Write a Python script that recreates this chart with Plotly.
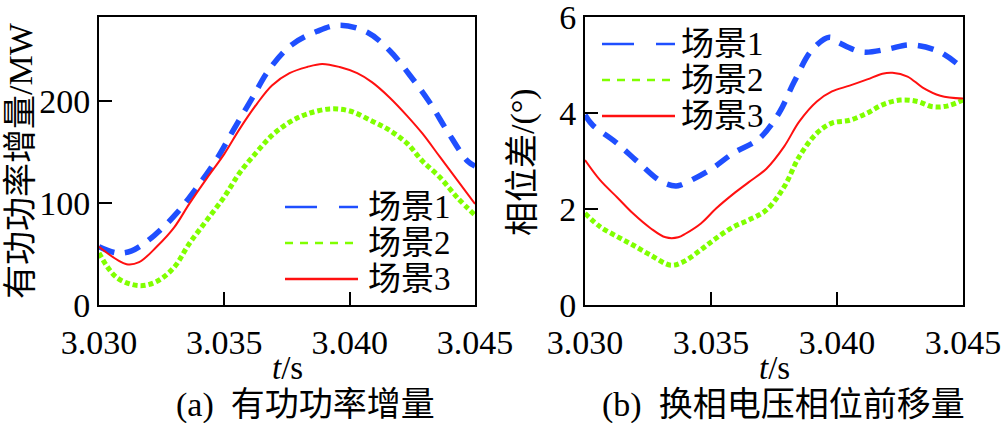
import plotly.graph_objects as go

# ---------------- data ----------------
series_names = ["场景1", "场景2", "场景3"]

# (a) active power increment, MW
t_a1 = [3.0300, 3.0307, 3.0313, 3.0322, 3.0331, 3.0339, 3.0347, 3.0354, 3.0361, 3.0368,
        3.0377, 3.0387, 3.0396, 3.0407, 3.0416, 3.0424, 3.0432, 3.0439, 3.0447, 3.0450]
p_a1 = [57, 51, 53, 68, 90, 115, 143, 173, 202, 231, 255, 268, 274, 267, 249, 225, 198, 170, 141, 136]

t_a2 = [3.0300, 3.0307, 3.0316, 3.0323, 3.0330, 3.0336, 3.0343, 3.0350, 3.0356, 3.0363, 3.0369,
        3.0376, 3.0383, 3.0392, 3.0400, 3.0409, 3.0416, 3.0423, 3.0429, 3.0436, 3.0443, 3.0450]
p_a2 = [51, 27, 19, 23, 37, 60, 83, 106, 129, 150, 166, 179, 187, 192, 190, 180, 171, 158, 141, 125, 105, 88]

t_a3 = [3.0300, 3.0311, 3.0316, 3.0323, 3.0330, 3.0336, 3.0343, 3.0350, 3.0356, 3.0363, 3.0369,
        3.0376, 3.0383, 3.0389, 3.0396, 3.0403, 3.0409, 3.0416, 3.0423, 3.0429, 3.0436, 3.0443, 3.0450]
p_a3 = [57, 40, 42, 57, 76, 99, 124, 148, 172, 197, 215, 227, 233, 236, 233, 227, 218, 203, 185, 168, 145, 122, 99]

# (b) commutation voltage phase advance, degrees
t_b1 = [3.0300, 3.0303, 3.0312, 3.0321, 3.0330, 3.0336, 3.0338, 3.0350, 3.0359, 3.0369, 3.0377,
        3.0383, 3.0390, 3.0397, 3.0401, 3.0410, 3.0420, 3.0429, 3.0440, 3.0450]
d_b1 = [3.96, 3.75, 3.40, 2.98, 2.58, 2.48, 2.50, 2.83, 3.17, 3.46, 4.00,
        4.65, 5.31, 5.58, 5.46, 5.27, 5.33, 5.42, 5.29, 4.93]

t_b2 = [3.0300, 3.0306, 3.0313, 3.0319, 3.0326, 3.0334, 3.0339, 3.0346, 3.0352, 3.0359, 3.0365,
        3.0372, 3.0379, 3.0385, 3.0392, 3.0398, 3.0405, 3.0412, 3.0418, 3.0425, 3.0432, 3.0438,
        3.0444, 3.0450]
d_b2 = [1.91, 1.63, 1.42, 1.25, 1.04, 0.83, 0.90, 1.15, 1.39, 1.63, 1.77,
        1.98, 2.46, 3.09, 3.58, 3.79, 3.85, 4.00, 4.17, 4.27, 4.24, 4.13, 4.15, 4.27]

t_b3 = [3.0300, 3.0306, 3.0313, 3.0319, 3.0326, 3.0332, 3.0337, 3.0340, 3.0346, 3.0352, 3.0359,
        3.0365, 3.0372, 3.0379, 3.0385, 3.0392, 3.0398, 3.0405, 3.0412, 3.0418, 3.0422, 3.0428,
        3.0434, 3.0441, 3.0450]
d_b3 = [3.02, 2.60, 2.23, 1.91, 1.60, 1.41, 1.41, 1.49, 1.70, 2.01, 2.32,
        2.56, 2.84, 3.30, 3.82, 4.24, 4.45, 4.57, 4.70, 4.82, 4.84, 4.76, 4.53, 4.36, 4.30]

x_ticks = [3.030, 3.035, 3.040, 3.045]
x_ticktext = ["3.030", "3.035", "3.040", "3.045"]
ya_ticks = [0, 100, 200]
yb_ticks = [0, 2, 4, 6]

# ---------------- style ----------------
W, H = 1003, 423
LAT = "Liberation Serif, Times New Roman, Noto Sans CJK SC, serif"
BLUE, GREEN, RED = "#1f4fff", "#80ff00", "#ff1010"
plot_styles = [dict(color=BLUE, width=5.5, dash="16px,11px"),
               dict(color=GREEN, width=5, dash="5px,3px"),
               dict(color=RED, width=2)]
legend_styles = [dict(color=BLUE, width=2.5, dash="32px,22px"),
                 dict(color=GREEN, width=2.5, dash="8px,7px"),
                 dict(color=RED, width=2.5)]

def px_x(p):
    return p / W

def px_y(p):
    return 1 - p / H

fig = go.Figure()
data_a = [(t_a1, p_a1), (t_a2, p_a2), (t_a3, p_a3)]
data_b = [(t_b1, d_b1), (t_b2, d_b2), (t_b3, d_b3)]
for i, (tx, ty) in enumerate(data_a):
    fig.add_trace(go.Scatter(x=tx, y=ty, mode="lines", line=dict(shape="spline", **plot_styles[i]),
                             name=series_names[i], showlegend=False, xaxis="x", yaxis="y"))
for i, (tx, ty) in enumerate(data_b):
    fig.add_trace(go.Scatter(x=tx, y=ty, mode="lines", line=dict(shape="spline", **plot_styles[i]),
                             name=series_names[i], showlegend=False, xaxis="x2", yaxis="y2"))

ydom = [px_y(305), px_y(17)]
axis_common = dict(showline=True, linecolor="black", linewidth=2, mirror=True, ticks="inside",
                   ticklen=13, tickwidth=1.5, tickcolor="black", showgrid=False, zeroline=False,
                   automargin=False,
                   tickfont=dict(family=LAT, size=34, color="black"))
fig.update_layout(
    template="none",
    width=W, height=H, autosize=False,
    margin=dict(l=0, r=0, t=0, b=0, pad=0, autoexpand=False),
    paper_bgcolor="white", plot_bgcolor="white",
    xaxis=dict(domain=[px_x(99), px_x(475)], range=[3.030, 3.045], tickvals=x_ticks,
               ticktext=x_ticktext, anchor="y", ticklabelstandoff=6, **axis_common),
    yaxis=dict(domain=ydom, range=[0, 282], tickvals=ya_ticks, anchor="x", **axis_common),
    xaxis2=dict(domain=[px_x(585), px_x(963)], range=[3.030, 3.045], tickvals=x_ticks,
                ticktext=x_ticktext, anchor="y2", ticklabelstandoff=6, **axis_common),
    yaxis2=dict(domain=ydom, range=[0, 6.0005], tickvals=yb_ticks, anchor="x2",
                ticklabeloverflow="allow", **axis_common),
    showlegend=False,
)

annotations = []
shapes = []
# legends drawn as line samples + labels
legend_a = dict(x0=285, x1=358, tx=366, rows=[207, 243, 279])
legend_b = dict(x0=602, x1=675, tx=679, rows=[44, 80, 116])
for lg in (legend_a, legend_b):
    for i, yy in enumerate(lg["rows"]):
        shapes.append(dict(type="line", xref="paper", yref="paper",
                           x0=px_x(lg["x0"]), x1=px_x(lg["x1"]), y0=px_y(yy), y1=px_y(yy),
                           line=legend_styles[i]))
        annotations.append(dict(text=series_names[i], xref="paper", yref="paper",
                                x=px_x(lg["tx"]), y=px_y(yy), xanchor="left", yanchor="middle",
                                showarrow=False, font=dict(family=LAT, size=33, color="black")))

# axis titles
annotations.append(dict(text="有功功率增量/MW", xref="paper", yref="paper", x=px_x(20), y=px_y(161),
                        textangle=-90, showarrow=False, xanchor="center", yanchor="middle",
                        font=dict(family=LAT, size=34, color="black")))
annotations.append(dict(text="相位差/(°)", xref="paper", yref="paper", x=px_x(523), y=px_y(162),
                        textangle=-90, showarrow=False, xanchor="center", yanchor="middle",
                        font=dict(family=LAT, size=34, color="black")))
for cx in (287, 774):
    annotations.append(dict(text="<i>t</i>/s", xref="paper", yref="paper", x=px_x(cx), y=px_y(368),
                            showarrow=False, xanchor="center", yanchor="middle",
                            font=dict(family=LAT, size=33, color="black")))
annotations.append(dict(text="(a)  有功功率增量", xref="paper", yref="paper", x=px_x(305), y=px_y(405),
                        showarrow=False, xanchor="center", yanchor="middle",
                        font=dict(family=LAT, size=34, color="black")))
annotations.append(dict(text="(b)  换相电压相位前移量", xref="paper", yref="paper", x=px_x(783), y=px_y(405),
                        showarrow=False, xanchor="center", yanchor="middle",
                        font=dict(family=LAT, size=34, color="black")))

fig.update_layout(annotations=annotations, shapes=shapes)
fig.write_html("out.html", config={"displayModeBar": False},
               post_script="document.body.style.margin='0';document.body.style.overflow='hidden';")
